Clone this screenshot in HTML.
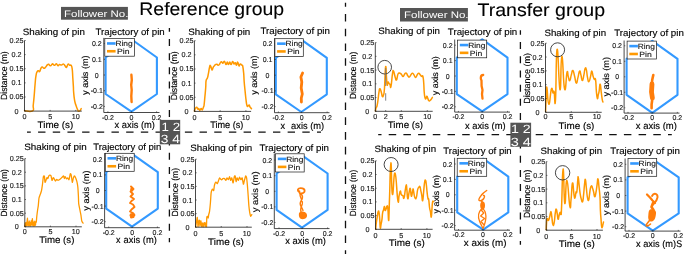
<!DOCTYPE html>
<html><head><meta charset="utf-8"><style>
html,body{margin:0;padding:0;background:#fff;}
svg{display:block;will-change:transform;}
text{font-family:"Liberation Sans",sans-serif;text-rendering:geometricPrecision;}
</style></head><body>
<svg xmlns="http://www.w3.org/2000/svg" width="685" height="254" viewBox="0 0 685 254">
<rect x="0" y="0" width="685" height="254" fill="#fff"/>
<path d="M24.50,110.80 C26.66,110.80 30.28,112.24 32.60,110.80 C34.92,109.36 32.80,109.19 33.20,105.40 C33.60,101.61 33.59,102.31 34.10,96.60 C34.61,90.89 34.59,89.60 35.10,84.00 C35.61,78.40 35.44,78.91 36.00,75.60 C36.56,72.29 36.53,72.88 37.20,71.60 C37.87,70.32 37.83,70.80 38.50,70.80 C39.17,70.80 39.03,72.32 39.70,71.60 C40.37,70.88 40.31,69.30 41.00,68.10 C41.69,66.90 41.53,67.05 42.30,67.10 C43.07,67.15 43.07,68.22 43.90,68.30 C44.73,68.38 44.49,68.31 45.40,67.40 C46.31,66.49 46.45,65.73 47.30,64.90 C48.15,64.07 47.77,64.06 48.60,64.30 C49.43,64.54 49.41,65.88 50.40,65.80 C51.39,65.72 51.53,64.37 52.30,64.00 C53.07,63.63 52.63,64.05 53.30,64.40 C53.97,64.75 53.97,65.46 54.80,65.30 C55.63,65.14 55.55,63.69 56.40,63.80 C57.25,63.91 57.15,65.54 58.00,65.70 C58.85,65.86 58.69,64.56 59.60,64.40 C60.51,64.24 60.33,65.18 61.40,65.10 C62.47,65.02 62.59,63.83 63.60,64.10 C64.61,64.37 64.43,65.25 65.20,66.10 C65.97,66.95 65.73,67.83 66.50,67.30 C67.27,66.77 67.27,64.63 68.10,64.10 C68.93,63.57 68.80,64.98 69.60,65.30 C70.40,65.62 70.41,64.34 71.10,65.30 C71.79,66.26 71.75,65.59 72.20,68.90 C72.65,72.21 72.48,72.87 72.80,77.70 C73.12,82.53 73.19,83.29 73.40,87.00 C73.61,90.71 73.28,88.03 73.60,91.60 C73.92,95.17 73.91,96.56 74.60,100.40 C75.29,104.24 75.37,103.49 76.20,106.00 C77.03,108.51 77.11,108.44 77.70,109.80 C78.29,111.16 77.81,110.86 78.40,111.10 C78.99,111.34 79.15,111.37 79.90,110.70 C80.65,110.03 80.85,109.16 81.20,108.60" fill="none" stroke="#ff9900" stroke-width="1.5" stroke-linejoin="round" stroke-linecap="round"/>
<path d="M24.5,40.5 V111.1 H81.8" fill="none" stroke="#1a1a1a" stroke-width="0.8"/>
<text x="9.50" y="43.00" font-size="7.2" textLength="14.01" lengthAdjust="spacingAndGlyphs" fill="#1a1a1a" stroke="#1a1a1a" stroke-width="0.14">0.25</text>
<text x="11.54" y="57.12" font-size="7.2" textLength="10.01" lengthAdjust="spacingAndGlyphs" fill="#1a1a1a" stroke="#1a1a1a" stroke-width="0.14">0.2</text>
<text x="9.50" y="71.24" font-size="7.2" textLength="14.01" lengthAdjust="spacingAndGlyphs" fill="#1a1a1a" stroke="#1a1a1a" stroke-width="0.14">0.15</text>
<text x="11.53" y="85.36" font-size="7.2" textLength="10.01" lengthAdjust="spacingAndGlyphs" fill="#1a1a1a" stroke="#1a1a1a" stroke-width="0.14">0.1</text>
<text x="9.50" y="99.48" font-size="7.2" textLength="14.01" lengthAdjust="spacingAndGlyphs" fill="#1a1a1a" stroke="#1a1a1a" stroke-width="0.14">0.05</text>
<text x="14.49" y="113.60" font-size="7.2" textLength="4.00" lengthAdjust="spacingAndGlyphs" fill="#1a1a1a" stroke="#1a1a1a" stroke-width="0.14">0</text>
<text x="22.49" y="119.40" font-size="7.2" textLength="4.00" lengthAdjust="spacingAndGlyphs" fill="#1a1a1a" stroke="#1a1a1a" stroke-width="0.14">0</text>
<text x="48.15" y="119.40" font-size="7.2" textLength="4.00" lengthAdjust="spacingAndGlyphs" fill="#1a1a1a" stroke="#1a1a1a" stroke-width="0.14">5</text>
<text x="71.66" y="119.40" font-size="7.2" textLength="8.01" lengthAdjust="spacingAndGlyphs" fill="#1a1a1a" stroke="#1a1a1a" stroke-width="0.14">10</text>
<path d="M24.5,40.50 h1.2 M24.5,54.62 h1.2 M24.5,68.74 h1.2 M24.5,82.86 h1.2 M24.5,96.98 h1.2 M24.5,111.10 h1.2 M24.50,111.1 v-1.2 M50.15,111.1 v-1.2 M75.80,111.1 v-1.2 " stroke="#1a1a1a" stroke-width="0.6"/>
<text x="22.76" y="34.60" font-size="9.3" textLength="62.17" lengthAdjust="spacingAndGlyphs" fill="#000" stroke="#000" stroke-width="0.14">Shaking of pin</text>
<text x="37.58" y="127.90" font-size="9.6" textLength="35.62" lengthAdjust="spacingAndGlyphs" fill="#000" stroke="#000" stroke-width="0.14">Time (s)</text>
<text transform="translate(7.00,99.90) rotate(-90)" x="0" y="0" font-size="8.9" textLength="48.63" lengthAdjust="spacingAndGlyphs" fill="#000" stroke="#000" stroke-width="0.14">Distance (m)</text>
<path d="M194.40,111.10 C194.75,110.25 195.03,108.91 195.70,107.90 C196.37,106.89 196.34,106.95 196.90,107.30 C197.46,107.65 197.29,108.85 197.80,109.20 C198.31,109.55 198.27,108.28 198.80,108.60 C199.33,108.92 199.19,110.40 199.80,110.40 C200.41,110.40 200.43,108.76 201.10,108.60 C201.77,108.44 201.63,110.31 202.30,109.80 C202.97,109.29 203.12,108.03 203.60,106.70 C204.08,105.37 203.75,107.49 204.10,104.80 C204.45,102.11 204.47,101.13 204.90,96.60 C205.33,92.07 205.38,92.07 205.70,87.80 C206.02,83.53 205.65,83.21 206.10,80.60 C206.55,77.99 206.79,79.87 207.40,78.00 C208.01,76.13 207.87,76.27 208.40,73.60 C208.93,70.93 208.89,70.19 209.40,68.00 C209.91,65.81 209.74,65.24 210.30,65.40 C210.86,65.56 210.99,67.40 211.50,68.60 C212.01,69.80 211.75,70.25 212.20,69.90 C212.65,69.55 212.61,68.39 213.20,67.30 C213.79,66.21 213.84,66.52 214.40,65.80 C214.96,65.08 214.63,65.03 215.30,64.60 C215.97,64.17 216.23,64.07 216.90,64.20 C217.57,64.33 217.21,64.94 217.80,65.10 C218.39,65.26 218.43,65.39 219.10,64.80 C219.77,64.21 219.63,63.73 220.30,62.90 C220.97,62.07 220.91,61.59 221.60,61.70 C222.29,61.81 222.13,63.38 222.90,63.30 C223.67,63.22 223.67,61.05 224.50,61.40 C225.33,61.75 225.25,64.41 226.00,64.60 C226.75,64.79 226.63,62.10 227.30,62.10 C227.97,62.10 227.83,64.60 228.50,64.60 C229.17,64.60 229.11,62.10 229.80,62.10 C230.49,62.10 230.33,64.79 231.10,64.60 C231.87,64.41 231.93,61.56 232.70,61.40 C233.47,61.24 233.33,63.65 234.00,64.00 C234.67,64.35 234.53,62.38 235.20,62.70 C235.87,63.02 235.83,65.36 236.50,65.20 C237.17,65.04 237.03,61.91 237.70,62.10 C238.37,62.29 238.31,65.39 239.00,65.90 C239.69,66.41 239.53,64.19 240.30,64.00 C241.07,63.81 241.23,64.53 241.90,65.20 C242.57,65.87 242.32,64.31 242.80,66.50 C243.28,68.69 243.33,69.27 243.70,73.40 C244.07,77.53 243.80,77.01 244.20,82.00 C244.60,86.99 244.72,87.41 245.20,92.10 C245.68,96.79 245.55,96.08 246.00,99.60 C246.45,103.12 246.39,103.54 246.90,105.30 C247.41,107.06 247.29,106.31 247.90,106.20 C248.51,106.09 248.69,104.79 249.20,104.90 C249.71,105.01 249.40,105.83 249.80,106.60 C250.20,107.37 250.25,107.24 250.70,107.80 C251.15,108.36 251.29,108.46 251.50,108.70" fill="none" stroke="#ff9900" stroke-width="1.5" stroke-linejoin="round" stroke-linecap="round"/>
<path d="M194.4,40.7 V111.4 H251.1" fill="none" stroke="#1a1a1a" stroke-width="0.8"/>
<text x="179.40" y="43.20" font-size="7.2" textLength="14.01" lengthAdjust="spacingAndGlyphs" fill="#1a1a1a" stroke="#1a1a1a" stroke-width="0.14">0.25</text>
<text x="181.44" y="57.34" font-size="7.2" textLength="10.01" lengthAdjust="spacingAndGlyphs" fill="#1a1a1a" stroke="#1a1a1a" stroke-width="0.14">0.2</text>
<text x="179.40" y="71.48" font-size="7.2" textLength="14.01" lengthAdjust="spacingAndGlyphs" fill="#1a1a1a" stroke="#1a1a1a" stroke-width="0.14">0.15</text>
<text x="181.43" y="85.62" font-size="7.2" textLength="10.01" lengthAdjust="spacingAndGlyphs" fill="#1a1a1a" stroke="#1a1a1a" stroke-width="0.14">0.1</text>
<text x="179.40" y="99.76" font-size="7.2" textLength="14.01" lengthAdjust="spacingAndGlyphs" fill="#1a1a1a" stroke="#1a1a1a" stroke-width="0.14">0.05</text>
<text x="184.39" y="113.90" font-size="7.2" textLength="4.00" lengthAdjust="spacingAndGlyphs" fill="#1a1a1a" stroke="#1a1a1a" stroke-width="0.14">0</text>
<text x="192.39" y="119.70" font-size="7.2" textLength="4.00" lengthAdjust="spacingAndGlyphs" fill="#1a1a1a" stroke="#1a1a1a" stroke-width="0.14">0</text>
<text x="218.15" y="119.70" font-size="7.2" textLength="4.00" lengthAdjust="spacingAndGlyphs" fill="#1a1a1a" stroke="#1a1a1a" stroke-width="0.14">5</text>
<text x="241.76" y="119.70" font-size="7.2" textLength="8.01" lengthAdjust="spacingAndGlyphs" fill="#1a1a1a" stroke="#1a1a1a" stroke-width="0.14">10</text>
<path d="M194.4,40.70 h1.2 M194.4,54.84 h1.2 M194.4,68.98 h1.2 M194.4,83.12 h1.2 M194.4,97.26 h1.2 M194.4,111.40 h1.2 M194.40,111.4 v-1.2 M220.15,111.4 v-1.2 M245.90,111.4 v-1.2 " stroke="#1a1a1a" stroke-width="0.6"/>
<text x="188.26" y="34.80" font-size="9.3" textLength="62.07" lengthAdjust="spacingAndGlyphs" fill="#000" stroke="#000" stroke-width="0.14">Shaking of pin</text>
<text x="210.20" y="127.70" font-size="9.6" textLength="33.17" lengthAdjust="spacingAndGlyphs" fill="#000" stroke="#000" stroke-width="0.14">Time (s)</text>
<text transform="translate(177.20,100.31) rotate(-90)" x="0" y="0" font-size="8.9" textLength="48.94" lengthAdjust="spacingAndGlyphs" fill="#000" stroke="#000" stroke-width="0.14">Distance (m)</text>
<path d="M24.80,226.50 C24.85,226.15 25.20,223.10 25.30,223.00 C25.40,222.90 25.70,225.57 25.80,225.50 C25.90,225.43 26.20,222.27 26.30,222.30 C26.40,222.33 26.69,226.21 26.80,225.80 C26.91,225.39 27.29,218.28 27.40,218.20 C27.51,218.12 27.81,224.56 27.90,225.00 C27.99,225.44 28.21,222.52 28.30,222.60 C28.39,222.68 28.71,225.97 28.80,225.80 C28.89,225.63 29.11,220.93 29.20,220.90 C29.29,220.87 29.61,225.33 29.70,225.50 C29.79,225.67 30.01,222.57 30.10,222.60 C30.19,222.63 30.49,225.97 30.60,225.80 C30.71,225.63 31.09,220.98 31.20,220.90 C31.31,220.82 31.58,225.22 31.70,225.00 C31.82,224.78 32.28,218.65 32.40,218.70 C32.52,218.75 32.81,225.11 32.90,225.50 C32.99,225.89 33.21,222.57 33.30,222.60 C33.39,222.63 33.71,225.94 33.80,225.80 C33.89,225.66 34.11,221.23 34.20,221.20 C34.29,221.17 34.61,225.29 34.70,225.50 C34.79,225.71 35.02,223.35 35.10,223.30 C35.18,223.25 35.43,225.21 35.50,225.00 C35.57,224.79 35.72,221.50 35.80,221.20 C35.88,220.90 36.20,222.49 36.30,222.00 C36.40,221.51 36.67,217.50 36.80,216.30 C36.93,215.10 37.45,211.07 37.60,210.00 C37.75,208.93 38.16,206.80 38.30,205.60 C38.44,204.40 38.80,199.13 39.00,198.00 C39.20,196.87 40.05,195.04 40.30,194.30 C40.55,193.56 41.29,191.54 41.50,190.60 C41.71,189.66 42.21,186.29 42.40,184.90 C42.59,183.51 43.20,177.56 43.40,176.70 C43.60,175.84 44.24,175.73 44.40,176.30 C44.56,176.87 44.85,181.98 45.00,182.40 C45.15,182.82 45.71,180.98 45.90,180.50 C46.09,180.02 46.71,177.79 46.90,177.60 C47.09,177.41 47.62,178.75 47.80,178.60 C47.98,178.45 48.51,176.45 48.70,176.10 C48.89,175.75 49.47,175.13 49.70,175.10 C49.93,175.07 50.77,175.27 51.00,175.80 C51.23,176.33 51.77,180.22 52.00,180.40 C52.23,180.58 53.07,177.73 53.30,177.60 C53.53,177.47 54.08,178.76 54.30,179.10 C54.52,179.44 55.25,180.97 55.50,181.00 C55.75,181.03 56.55,179.46 56.80,179.40 C57.05,179.34 57.75,180.37 58.00,180.40 C58.25,180.43 59.02,179.89 59.30,179.70 C59.58,179.51 60.52,178.75 60.80,178.50 C61.08,178.25 61.82,177.45 62.10,177.20 C62.38,176.95 63.38,175.87 63.60,176.00 C63.82,176.13 64.14,178.44 64.30,178.50 C64.46,178.56 64.98,176.56 65.20,176.60 C65.42,176.64 66.25,178.77 66.50,178.90 C66.75,179.03 67.45,177.82 67.70,177.90 C67.95,177.98 68.74,180.11 69.00,179.70 C69.26,179.29 70.09,174.30 70.30,173.80 C70.51,173.30 70.94,174.11 71.10,174.70 C71.26,175.29 71.77,178.94 71.90,179.70 C72.03,180.46 72.25,182.48 72.40,182.30 C72.55,182.12 73.20,178.53 73.40,177.90 C73.60,177.27 74.17,176.00 74.40,176.00 C74.63,176.00 75.45,177.34 75.70,177.90 C75.95,178.46 76.69,180.72 76.90,181.60 C77.11,182.48 77.65,185.26 77.80,186.70 C77.95,188.14 78.31,194.31 78.40,196.00 C78.49,197.69 78.55,202.21 78.70,203.60 C78.85,204.99 79.68,208.77 79.90,209.90 C80.12,211.03 80.71,213.77 80.90,214.90 C81.09,216.03 81.58,220.38 81.80,221.20 C82.02,222.02 82.97,222.91 83.10,223.10" fill="none" stroke="#ff9900" stroke-width="1.3" stroke-linejoin="round" stroke-linecap="round"/>
<path d="M24.8,158.6 V226.8 H81.8" fill="none" stroke="#1a1a1a" stroke-width="0.8"/>
<text x="9.80" y="161.10" font-size="7.2" textLength="14.01" lengthAdjust="spacingAndGlyphs" fill="#1a1a1a" stroke="#1a1a1a" stroke-width="0.14">0.25</text>
<text x="11.84" y="174.74" font-size="7.2" textLength="10.01" lengthAdjust="spacingAndGlyphs" fill="#1a1a1a" stroke="#1a1a1a" stroke-width="0.14">0.2</text>
<text x="9.80" y="188.38" font-size="7.2" textLength="14.01" lengthAdjust="spacingAndGlyphs" fill="#1a1a1a" stroke="#1a1a1a" stroke-width="0.14">0.15</text>
<text x="11.83" y="202.02" font-size="7.2" textLength="10.01" lengthAdjust="spacingAndGlyphs" fill="#1a1a1a" stroke="#1a1a1a" stroke-width="0.14">0.1</text>
<text x="9.80" y="215.66" font-size="7.2" textLength="14.01" lengthAdjust="spacingAndGlyphs" fill="#1a1a1a" stroke="#1a1a1a" stroke-width="0.14">0.05</text>
<text x="14.79" y="229.30" font-size="7.2" textLength="4.00" lengthAdjust="spacingAndGlyphs" fill="#1a1a1a" stroke="#1a1a1a" stroke-width="0.14">0</text>
<text x="22.79" y="234.30" font-size="7.2" textLength="4.00" lengthAdjust="spacingAndGlyphs" fill="#1a1a1a" stroke="#1a1a1a" stroke-width="0.14">0</text>
<text x="48.40" y="234.30" font-size="7.2" textLength="4.00" lengthAdjust="spacingAndGlyphs" fill="#1a1a1a" stroke="#1a1a1a" stroke-width="0.14">5</text>
<text x="71.86" y="234.30" font-size="7.2" textLength="8.01" lengthAdjust="spacingAndGlyphs" fill="#1a1a1a" stroke="#1a1a1a" stroke-width="0.14">10</text>
<path d="M24.8,158.60 h1.2 M24.8,172.24 h1.2 M24.8,185.88 h1.2 M24.8,199.52 h1.2 M24.8,213.16 h1.2 M24.8,226.80 h1.2 M24.80,226.8 v-1.2 M50.40,226.8 v-1.2 M76.00,226.8 v-1.2 " stroke="#1a1a1a" stroke-width="0.6"/>
<text x="24.16" y="149.80" font-size="9.3" textLength="62.47" lengthAdjust="spacingAndGlyphs" fill="#000" stroke="#000" stroke-width="0.14">Shaking of pin</text>
<text x="39.19" y="242.90" font-size="9.6" textLength="35.21" lengthAdjust="spacingAndGlyphs" fill="#000" stroke="#000" stroke-width="0.14">Time (s)</text>
<text transform="translate(7.00,216.49) rotate(-90)" x="0" y="0" font-size="8.9" textLength="47.40" lengthAdjust="spacingAndGlyphs" fill="#000" stroke="#000" stroke-width="0.14">Distance (m)</text>
<path d="M195.60,227.00 C195.69,226.50 196.33,222.95 196.50,222.00 C196.67,221.05 197.15,217.05 197.30,217.50 C197.45,217.95 197.87,226.05 198.00,226.50 C198.13,226.95 198.47,222.63 198.60,222.00 C198.73,221.37 199.17,219.80 199.30,220.20 C199.43,220.60 199.74,225.96 199.90,226.00 C200.06,226.04 200.72,220.55 200.90,220.60 C201.08,220.65 201.55,226.26 201.70,226.50 C201.85,226.74 202.26,222.97 202.40,223.00 C202.54,223.03 202.96,226.75 203.10,226.80 C203.24,226.85 203.67,223.92 203.80,223.50 C203.93,223.08 204.26,222.30 204.40,222.60 C204.54,222.90 205.04,226.54 205.20,226.50 C205.36,226.46 205.87,222.19 206.00,222.20 C206.13,222.21 206.42,227.07 206.50,226.60 C206.58,226.13 206.69,218.53 206.80,217.50 C206.91,216.47 207.46,216.25 207.60,216.30 C207.74,216.35 208.09,218.16 208.20,218.00 C208.31,217.84 208.57,215.34 208.70,214.70 C208.83,214.06 209.33,212.77 209.50,211.60 C209.67,210.43 210.24,204.85 210.40,203.00 C210.56,201.15 210.95,194.41 211.10,193.10 C211.25,191.79 211.73,190.28 211.90,189.90 C212.07,189.52 212.62,189.23 212.80,189.30 C212.98,189.37 213.54,190.98 213.70,190.60 C213.86,190.22 214.20,186.35 214.40,185.50 C214.60,184.65 215.48,182.35 215.70,182.10 C215.92,181.85 216.43,182.85 216.60,183.00 C216.77,183.15 217.22,183.79 217.40,183.60 C217.58,183.41 218.19,181.66 218.40,181.10 C218.61,180.54 219.27,178.19 219.50,178.00 C219.73,177.81 220.49,179.01 220.70,179.20 C220.91,179.39 221.38,179.96 221.60,179.90 C221.82,179.84 222.61,178.74 222.90,178.60 C223.19,178.46 224.21,178.32 224.50,178.50 C224.79,178.68 225.55,180.46 225.80,180.40 C226.05,180.34 226.75,177.97 227.00,177.90 C227.25,177.83 228.04,179.83 228.30,179.70 C228.56,179.57 229.37,176.53 229.60,176.60 C229.83,176.67 230.38,180.27 230.60,180.40 C230.82,180.53 231.55,177.65 231.80,177.90 C232.05,178.15 232.85,183.03 233.10,182.90 C233.35,182.77 234.09,177.29 234.30,176.60 C234.51,175.91 235.02,175.50 235.20,176.00 C235.38,176.50 235.91,181.41 236.10,181.60 C236.29,181.79 236.87,178.02 237.10,177.90 C237.33,177.78 238.15,180.47 238.40,180.40 C238.65,180.33 239.35,177.27 239.60,177.20 C239.85,177.13 240.64,179.63 240.90,179.70 C241.16,179.77 241.95,177.45 242.20,177.90 C242.45,178.35 243.18,183.95 243.40,184.20 C243.62,184.45 244.17,181.22 244.40,180.40 C244.63,179.58 245.48,176.25 245.70,176.00 C245.92,175.75 246.43,176.96 246.60,177.90 C246.77,178.84 247.24,183.59 247.40,185.40 C247.56,187.21 248.05,193.94 248.20,196.00 C248.35,198.06 248.75,204.36 248.90,206.00 C249.05,207.64 249.53,211.38 249.70,212.40 C249.87,213.42 250.39,215.98 250.60,216.20 C250.81,216.42 251.68,214.76 251.80,214.60" fill="none" stroke="#ff9900" stroke-width="1.3" stroke-linejoin="round" stroke-linecap="round"/>
<path d="M195.5,159.2 V227.2 H251.8" fill="none" stroke="#1a1a1a" stroke-width="0.8"/>
<text x="180.50" y="161.70" font-size="7.2" textLength="14.01" lengthAdjust="spacingAndGlyphs" fill="#1a1a1a" stroke="#1a1a1a" stroke-width="0.14">0.25</text>
<text x="182.54" y="175.30" font-size="7.2" textLength="10.01" lengthAdjust="spacingAndGlyphs" fill="#1a1a1a" stroke="#1a1a1a" stroke-width="0.14">0.2</text>
<text x="180.50" y="188.90" font-size="7.2" textLength="14.01" lengthAdjust="spacingAndGlyphs" fill="#1a1a1a" stroke="#1a1a1a" stroke-width="0.14">0.15</text>
<text x="182.53" y="202.50" font-size="7.2" textLength="10.01" lengthAdjust="spacingAndGlyphs" fill="#1a1a1a" stroke="#1a1a1a" stroke-width="0.14">0.1</text>
<text x="180.50" y="216.10" font-size="7.2" textLength="14.01" lengthAdjust="spacingAndGlyphs" fill="#1a1a1a" stroke="#1a1a1a" stroke-width="0.14">0.05</text>
<text x="185.49" y="229.70" font-size="7.2" textLength="4.00" lengthAdjust="spacingAndGlyphs" fill="#1a1a1a" stroke="#1a1a1a" stroke-width="0.14">0</text>
<text x="193.49" y="235.50" font-size="7.2" textLength="4.00" lengthAdjust="spacingAndGlyphs" fill="#1a1a1a" stroke="#1a1a1a" stroke-width="0.14">0</text>
<text x="219.25" y="235.50" font-size="7.2" textLength="4.00" lengthAdjust="spacingAndGlyphs" fill="#1a1a1a" stroke="#1a1a1a" stroke-width="0.14">5</text>
<text x="242.86" y="235.50" font-size="7.2" textLength="8.01" lengthAdjust="spacingAndGlyphs" fill="#1a1a1a" stroke="#1a1a1a" stroke-width="0.14">10</text>
<path d="M195.5,159.20 h1.2 M195.5,172.80 h1.2 M195.5,186.40 h1.2 M195.5,200.00 h1.2 M195.5,213.60 h1.2 M195.5,227.20 h1.2 M195.50,227.2 v-1.2 M221.25,227.2 v-1.2 M247.00,227.2 v-1.2 " stroke="#1a1a1a" stroke-width="0.6"/>
<text x="190.26" y="150.80" font-size="9.3" textLength="62.07" lengthAdjust="spacingAndGlyphs" fill="#000" stroke="#000" stroke-width="0.14">Shaking of pin</text>
<text x="208.08" y="244.60" font-size="9.6" textLength="35.83" lengthAdjust="spacingAndGlyphs" fill="#000" stroke="#000" stroke-width="0.14">Time (s)</text>
<text transform="translate(177.60,216.50) rotate(-90)" x="0" y="0" font-size="8.9" textLength="48.53" lengthAdjust="spacingAndGlyphs" fill="#000" stroke="#000" stroke-width="0.14">Distance (m)</text>
<path d="M375.50,111.00 C375.63,110.20 375.60,109.33 376.00,108.00 C376.40,106.67 376.47,108.13 377.00,106.00 C377.53,103.87 377.47,103.73 378.00,100.00 C378.53,96.27 378.47,94.99 379.00,92.00 C379.53,89.01 379.33,88.53 380.00,88.80 C380.67,89.07 380.89,90.95 381.50,93.00 C382.11,95.05 381.77,95.97 382.30,96.50 C382.83,97.03 382.91,97.27 383.50,95.00 C384.09,92.73 383.94,95.49 384.50,88.00 C385.06,80.51 385.04,69.33 385.60,66.90 C386.16,64.47 386.17,74.02 386.60,78.90 C387.03,83.78 386.83,84.37 387.20,85.20 C387.57,86.03 387.52,82.45 388.00,82.00 C388.48,81.55 388.47,82.83 389.00,83.50 C389.53,84.17 389.47,83.73 390.00,84.50 C390.53,85.27 390.33,89.31 391.00,86.40 C391.67,83.49 391.83,77.68 392.50,73.60 C393.17,69.52 392.83,70.35 393.50,71.10 C394.17,71.85 394.20,74.03 395.00,76.40 C395.80,78.77 395.70,80.64 396.50,80.00 C397.30,79.36 397.07,75.81 398.00,74.00 C398.93,72.19 399.07,73.07 400.00,73.20 C400.93,73.33 400.67,73.65 401.50,74.50 C402.33,75.35 402.22,76.56 403.10,76.40 C403.98,76.24 403.95,74.75 404.80,73.90 C405.65,73.05 405.50,72.72 406.30,73.20 C407.10,73.68 406.97,74.69 407.80,75.70 C408.63,76.71 408.52,77.32 409.40,77.00 C410.28,76.68 410.25,75.51 411.10,74.50 C411.95,73.49 411.80,73.04 412.60,73.20 C413.40,73.36 413.27,73.98 414.10,75.10 C414.93,76.22 414.82,77.56 415.70,77.40 C416.58,77.24 416.55,75.62 417.40,74.50 C418.25,73.38 418.10,73.04 418.90,73.20 C419.70,73.36 419.65,74.25 420.40,75.10 C421.15,75.95 421.03,76.05 421.70,76.40 C422.37,76.75 422.37,74.72 422.90,76.40 C423.43,78.08 423.35,78.54 423.70,82.70 C424.05,86.86 423.88,88.08 424.20,92.00 C424.52,95.92 424.45,95.61 424.90,97.40 C425.35,99.19 425.39,99.02 425.90,98.70 C426.41,98.38 426.32,96.36 426.80,96.20 C427.28,96.04 427.19,96.93 427.70,98.10 C428.21,99.27 428.11,99.93 428.70,100.60 C429.29,101.27 429.23,100.95 429.90,100.60 C430.57,100.25 430.53,100.15 431.20,99.30 C431.87,98.45 432.08,97.91 432.40,97.40" fill="none" stroke="#ff9900" stroke-width="1.5" stroke-linejoin="round" stroke-linecap="round"/>
<path d="M375.3,42.6 V111.3 H432.7" fill="none" stroke="#1a1a1a" stroke-width="0.8"/>
<text x="360.30" y="45.10" font-size="7.2" textLength="14.01" lengthAdjust="spacingAndGlyphs" fill="#1a1a1a" stroke="#1a1a1a" stroke-width="0.14">0.25</text>
<text x="362.34" y="58.84" font-size="7.2" textLength="10.01" lengthAdjust="spacingAndGlyphs" fill="#1a1a1a" stroke="#1a1a1a" stroke-width="0.14">0.2</text>
<text x="360.30" y="72.58" font-size="7.2" textLength="14.01" lengthAdjust="spacingAndGlyphs" fill="#1a1a1a" stroke="#1a1a1a" stroke-width="0.14">0.15</text>
<text x="362.33" y="86.32" font-size="7.2" textLength="10.01" lengthAdjust="spacingAndGlyphs" fill="#1a1a1a" stroke="#1a1a1a" stroke-width="0.14">0.1</text>
<text x="360.30" y="100.06" font-size="7.2" textLength="14.01" lengthAdjust="spacingAndGlyphs" fill="#1a1a1a" stroke="#1a1a1a" stroke-width="0.14">0.05</text>
<text x="365.29" y="113.80" font-size="7.2" textLength="4.00" lengthAdjust="spacingAndGlyphs" fill="#1a1a1a" stroke="#1a1a1a" stroke-width="0.14">0</text>
<text x="373.29" y="118.60" font-size="7.2" textLength="4.00" lengthAdjust="spacingAndGlyphs" fill="#1a1a1a" stroke="#1a1a1a" stroke-width="0.14">0</text>
<text x="383.70" y="118.60" font-size="7.2" textLength="4.00" lengthAdjust="spacingAndGlyphs" fill="#1a1a1a" stroke="#1a1a1a" stroke-width="0.14">2</text>
<text x="399.30" y="118.60" font-size="7.2" textLength="4.00" lengthAdjust="spacingAndGlyphs" fill="#1a1a1a" stroke="#1a1a1a" stroke-width="0.14">5</text>
<text x="423.16" y="118.60" font-size="7.2" textLength="8.01" lengthAdjust="spacingAndGlyphs" fill="#1a1a1a" stroke="#1a1a1a" stroke-width="0.14">10</text>
<path d="M375.3,42.60 h1.2 M375.3,56.34 h1.2 M375.3,70.08 h1.2 M375.3,83.82 h1.2 M375.3,97.56 h1.2 M375.3,111.30 h1.2 M375.30,111.3 v-1.2 M385.70,111.3 v-1.2 M401.30,111.3 v-1.2 M427.30,111.3 v-1.2 " stroke="#1a1a1a" stroke-width="0.6"/>
<text x="378.36" y="33.90" font-size="9.3" textLength="61.66" lengthAdjust="spacingAndGlyphs" fill="#000" stroke="#000" stroke-width="0.14">Shaking of pin</text>
<text x="387.79" y="128.30" font-size="9.6" textLength="35.32" lengthAdjust="spacingAndGlyphs" fill="#000" stroke="#000" stroke-width="0.14">Time (s)</text>
<text transform="translate(355.60,99.08) rotate(-90)" x="0" y="0" font-size="8.9" textLength="47.30" lengthAdjust="spacingAndGlyphs" fill="#000" stroke="#000" stroke-width="0.14">Distance (m)</text>
<path d="M545.60,111.50 C545.73,108.43 545.78,106.48 546.10,100.00 C546.42,93.52 546.08,86.08 546.80,87.20 C547.52,88.32 547.57,103.69 548.80,104.20 C550.03,104.71 550.28,92.11 551.40,89.10 C552.52,86.09 552.28,92.23 553.00,92.90 C553.72,93.57 553.43,89.76 554.10,91.60 C554.77,93.44 554.70,111.08 555.50,99.80 C556.30,88.52 555.90,51.99 557.10,49.30 C558.30,46.61 558.75,87.91 560.00,89.70 C561.25,91.49 560.57,56.16 561.80,56.00 C563.03,55.84 563.21,84.73 564.60,89.10 C565.99,93.47 566.01,75.68 567.00,72.40 C567.99,69.12 567.55,74.61 568.30,76.80 C569.05,78.99 569.00,81.11 569.80,80.60 C570.60,80.09 570.47,77.59 571.30,74.90 C572.13,72.21 572.02,70.15 572.90,70.50 C573.78,70.85 573.69,72.84 574.60,76.20 C575.51,79.56 575.39,82.78 576.30,83.10 C577.21,83.42 577.12,80.60 578.00,77.40 C578.88,74.20 578.83,71.77 579.60,71.10 C580.37,70.43 580.15,72.37 580.90,74.90 C581.65,77.43 581.60,80.60 582.40,80.60 C583.20,80.60 583.18,78.10 583.90,74.90 C584.62,71.70 584.43,69.93 585.10,68.60 C585.77,67.27 585.79,67.71 586.40,69.90 C587.01,72.09 586.73,73.63 587.40,76.80 C588.07,79.97 588.05,81.96 588.90,81.80 C589.75,81.64 589.83,79.05 590.60,76.20 C591.37,73.35 591.13,71.10 591.80,71.10 C592.47,71.10 592.43,74.01 593.10,76.20 C593.77,78.39 593.63,78.31 594.30,79.30 C594.97,80.29 595.04,76.62 595.60,79.90 C596.16,83.18 595.92,86.64 596.40,91.60 C596.88,96.56 596.89,97.67 597.40,98.50 C597.91,99.33 597.85,96.62 598.30,94.70 C598.75,92.78 598.59,94.10 599.10,91.30 C599.61,88.50 599.61,83.83 600.20,84.20 C600.79,84.57 600.74,88.54 601.30,92.70 C601.86,96.86 601.85,97.32 602.30,99.80 C602.75,102.28 602.81,101.41 603.00,102.00" fill="none" stroke="#ff9900" stroke-width="1.5" stroke-linejoin="round" stroke-linecap="round"/>
<path d="M545.5,43.2 V112.3 H601.7" fill="none" stroke="#1a1a1a" stroke-width="0.8"/>
<text x="530.50" y="45.70" font-size="7.2" textLength="14.01" lengthAdjust="spacingAndGlyphs" fill="#1a1a1a" stroke="#1a1a1a" stroke-width="0.14">0.25</text>
<text x="532.54" y="59.52" font-size="7.2" textLength="10.01" lengthAdjust="spacingAndGlyphs" fill="#1a1a1a" stroke="#1a1a1a" stroke-width="0.14">0.2</text>
<text x="530.50" y="73.34" font-size="7.2" textLength="14.01" lengthAdjust="spacingAndGlyphs" fill="#1a1a1a" stroke="#1a1a1a" stroke-width="0.14">0.15</text>
<text x="532.53" y="87.16" font-size="7.2" textLength="10.01" lengthAdjust="spacingAndGlyphs" fill="#1a1a1a" stroke="#1a1a1a" stroke-width="0.14">0.1</text>
<text x="530.50" y="100.98" font-size="7.2" textLength="14.01" lengthAdjust="spacingAndGlyphs" fill="#1a1a1a" stroke="#1a1a1a" stroke-width="0.14">0.05</text>
<text x="535.49" y="114.80" font-size="7.2" textLength="4.00" lengthAdjust="spacingAndGlyphs" fill="#1a1a1a" stroke="#1a1a1a" stroke-width="0.14">0</text>
<text x="543.49" y="119.30" font-size="7.2" textLength="4.00" lengthAdjust="spacingAndGlyphs" fill="#1a1a1a" stroke="#1a1a1a" stroke-width="0.14">0</text>
<text x="569.25" y="119.30" font-size="7.2" textLength="4.00" lengthAdjust="spacingAndGlyphs" fill="#1a1a1a" stroke="#1a1a1a" stroke-width="0.14">5</text>
<text x="592.86" y="119.30" font-size="7.2" textLength="8.01" lengthAdjust="spacingAndGlyphs" fill="#1a1a1a" stroke="#1a1a1a" stroke-width="0.14">10</text>
<path d="M545.5,43.20 h1.2 M545.5,57.02 h1.2 M545.5,70.84 h1.2 M545.5,84.66 h1.2 M545.5,98.48 h1.2 M545.5,112.30 h1.2 M545.50,112.3 v-1.2 M571.25,112.3 v-1.2 M597.00,112.3 v-1.2 " stroke="#1a1a1a" stroke-width="0.6"/>
<text x="544.46" y="35.90" font-size="9.3" textLength="61.66" lengthAdjust="spacingAndGlyphs" fill="#000" stroke="#000" stroke-width="0.14">Shaking of pin</text>
<text x="558.58" y="128.70" font-size="9.6" textLength="35.83" lengthAdjust="spacingAndGlyphs" fill="#000" stroke="#000" stroke-width="0.14">Time (s)</text>
<text transform="translate(529.60,103.83) rotate(-90)" x="0" y="0" font-size="8.9" textLength="50.79" lengthAdjust="spacingAndGlyphs" fill="#000" stroke="#000" stroke-width="0.14">Distance (m)</text>
<path d="M375.70,229.20 C375.86,227.52 375.87,226.26 376.30,222.90 C376.73,219.54 376.79,219.61 377.30,216.60 C377.81,213.59 377.72,212.61 378.20,211.60 C378.68,210.59 378.67,210.45 379.10,212.80 C379.53,215.15 379.48,216.37 379.80,220.40 C380.12,224.43 379.95,226.89 380.30,227.90 C380.65,228.91 380.65,226.55 381.10,224.20 C381.55,221.85 381.60,222.14 382.00,219.10 C382.40,216.06 382.17,215.31 382.60,212.80 C383.03,210.29 383.09,211.38 383.60,209.70 C384.11,208.02 384.10,206.34 384.50,206.50 C384.90,206.66 384.67,209.63 385.10,210.30 C385.53,210.97 385.59,210.17 386.10,209.00 C386.61,207.83 386.52,205.90 387.00,205.90 C387.48,205.90 387.47,205.13 387.90,209.00 C388.33,212.87 388.28,219.71 388.60,220.40 C388.92,221.09 388.83,218.21 389.10,211.60 C389.37,204.99 389.12,208.61 389.60,195.60 C390.08,182.59 390.15,163.15 390.90,162.80 C391.65,162.45 391.31,191.55 392.40,194.30 C393.49,197.05 393.56,171.58 395.00,173.10 C396.44,174.62 396.71,194.00 397.80,200.00 C398.89,206.00 398.43,197.97 399.10,195.60 C399.77,193.23 399.71,191.37 400.30,191.10 C400.89,190.83 400.63,193.43 401.30,194.60 C401.97,195.77 402.08,194.59 402.80,195.50 C403.52,196.41 403.33,199.49 404.00,198.00 C404.67,196.51 404.69,193.42 405.30,189.90 C405.91,186.38 405.87,184.80 406.30,184.80 C406.73,184.80 406.50,186.19 406.90,189.90 C407.30,193.61 407.21,198.03 407.80,198.70 C408.39,199.37 408.43,195.09 409.10,192.40 C409.77,189.71 409.71,187.59 410.30,188.60 C410.89,189.61 410.69,195.53 411.30,196.20 C411.91,196.87 412.09,192.97 412.60,191.10 C413.11,189.23 412.80,188.35 413.20,189.20 C413.60,190.05 413.59,191.95 414.10,194.30 C414.61,196.65 414.49,197.17 415.10,198.00 C415.71,198.83 415.73,199.56 416.40,197.40 C417.07,195.24 416.93,192.59 417.60,189.90 C418.27,187.21 418.29,188.15 418.90,187.30 C419.51,186.45 419.39,185.85 419.90,186.70 C420.41,187.55 420.32,188.31 420.80,190.50 C421.28,192.69 421.19,192.21 421.70,194.90 C422.21,197.59 422.17,201.61 422.70,200.60 C423.23,199.59 423.19,195.98 423.70,191.10 C424.21,186.22 424.09,185.15 424.60,182.30 C425.11,179.45 425.12,179.57 425.60,180.40 C426.08,181.23 426.00,182.20 426.40,185.40 C426.80,188.60 426.67,188.85 427.10,192.40 C427.53,195.95 427.57,196.86 428.00,198.70 C428.43,200.54 428.27,196.82 428.70,199.30 C429.13,201.78 429.15,204.77 429.60,208.00 C430.05,211.23 429.95,208.97 430.40,211.40 C430.85,213.83 430.90,217.58 431.30,217.10 C431.70,216.62 431.55,213.63 431.90,209.60 C432.25,205.57 432.15,204.13 432.60,202.00 C433.05,199.87 433.33,201.71 433.60,201.60" fill="none" stroke="#ff9900" stroke-width="1.5" stroke-linejoin="round" stroke-linecap="round"/>
<path d="M375.5,160.8 V229.3 H432.6" fill="none" stroke="#1a1a1a" stroke-width="0.8"/>
<text x="360.50" y="163.30" font-size="7.2" textLength="14.01" lengthAdjust="spacingAndGlyphs" fill="#1a1a1a" stroke="#1a1a1a" stroke-width="0.14">0.25</text>
<text x="362.54" y="177.00" font-size="7.2" textLength="10.01" lengthAdjust="spacingAndGlyphs" fill="#1a1a1a" stroke="#1a1a1a" stroke-width="0.14">0.2</text>
<text x="360.50" y="190.70" font-size="7.2" textLength="14.01" lengthAdjust="spacingAndGlyphs" fill="#1a1a1a" stroke="#1a1a1a" stroke-width="0.14">0.15</text>
<text x="362.53" y="204.40" font-size="7.2" textLength="10.01" lengthAdjust="spacingAndGlyphs" fill="#1a1a1a" stroke="#1a1a1a" stroke-width="0.14">0.1</text>
<text x="360.50" y="218.10" font-size="7.2" textLength="14.01" lengthAdjust="spacingAndGlyphs" fill="#1a1a1a" stroke="#1a1a1a" stroke-width="0.14">0.05</text>
<text x="365.49" y="231.80" font-size="7.2" textLength="4.00" lengthAdjust="spacingAndGlyphs" fill="#1a1a1a" stroke="#1a1a1a" stroke-width="0.14">0</text>
<text x="373.49" y="237.60" font-size="7.2" textLength="4.00" lengthAdjust="spacingAndGlyphs" fill="#1a1a1a" stroke="#1a1a1a" stroke-width="0.14">0</text>
<text x="399.20" y="237.60" font-size="7.2" textLength="4.00" lengthAdjust="spacingAndGlyphs" fill="#1a1a1a" stroke="#1a1a1a" stroke-width="0.14">5</text>
<text x="422.76" y="237.60" font-size="7.2" textLength="8.01" lengthAdjust="spacingAndGlyphs" fill="#1a1a1a" stroke="#1a1a1a" stroke-width="0.14">10</text>
<path d="M375.5,160.80 h1.2 M375.5,174.50 h1.2 M375.5,188.20 h1.2 M375.5,201.90 h1.2 M375.5,215.60 h1.2 M375.5,229.30 h1.2 M375.50,229.3 v-1.2 M401.20,229.3 v-1.2 M426.90,229.3 v-1.2 " stroke="#1a1a1a" stroke-width="0.6"/>
<text x="374.46" y="151.80" font-size="9.3" textLength="61.66" lengthAdjust="spacingAndGlyphs" fill="#000" stroke="#000" stroke-width="0.14">Shaking of pin</text>
<text x="388.88" y="246.20" font-size="9.6" textLength="36.03" lengthAdjust="spacingAndGlyphs" fill="#000" stroke="#000" stroke-width="0.14">Time (s)</text>
<text transform="translate(356.30,216.27) rotate(-90)" x="0" y="0" font-size="8.9" textLength="46.58" lengthAdjust="spacingAndGlyphs" fill="#000" stroke="#000" stroke-width="0.14">Distance (m)</text>
<path d="M546.30,229.80 C546.35,228.31 546.29,227.19 546.50,224.20 C546.71,221.21 546.59,219.61 547.10,218.60 C547.61,217.59 547.71,220.91 548.40,220.40 C549.09,219.89 549.03,219.05 549.70,216.70 C550.37,214.35 550.34,211.60 550.90,211.60 C551.46,211.60 551.29,213.34 551.80,216.70 C552.31,220.06 552.19,222.52 552.80,224.20 C553.41,225.88 553.43,226.01 554.10,223.00 C554.77,219.99 554.71,216.61 555.30,212.90 C555.89,209.19 555.79,208.94 556.30,209.10 C556.81,209.26 556.72,210.81 557.20,213.50 C557.68,216.19 557.59,218.69 558.10,219.20 C558.61,219.71 558.57,217.24 559.10,215.40 C559.63,213.56 559.59,212.62 560.10,212.30 C560.61,211.98 560.60,215.72 561.00,214.20 C561.40,212.68 561.04,218.65 561.60,206.60 C562.16,194.55 562.25,169.85 563.10,169.00 C563.95,168.15 563.79,200.36 564.80,203.40 C565.81,206.44 565.57,179.71 566.90,180.40 C568.23,181.09 568.68,201.04 569.80,206.00 C570.92,210.96 570.38,205.13 571.10,199.00 C571.82,192.87 571.73,184.15 572.50,183.00 C573.27,181.85 573.33,190.75 574.00,194.70 C574.67,198.65 574.47,198.47 575.00,197.80 C575.53,197.13 575.49,193.88 576.00,192.20 C576.51,190.52 576.42,194.86 576.90,191.50 C577.38,188.14 577.43,183.28 577.80,179.60 C578.17,175.92 577.95,176.37 578.30,177.70 C578.65,179.03 578.62,180.41 579.10,184.60 C579.58,188.79 579.51,189.53 580.10,193.40 C580.69,197.27 580.63,196.91 581.30,199.10 C581.97,201.29 581.99,202.77 582.60,201.60 C583.21,200.43 583.09,199.23 583.60,194.70 C584.11,190.17 584.02,188.63 584.50,184.60 C584.98,180.57 584.89,178.59 585.40,179.60 C585.91,180.61 585.87,183.71 586.40,188.40 C586.93,193.09 586.81,194.03 587.40,197.20 C587.99,200.37 588.04,200.97 588.60,200.30 C589.16,199.63 589.02,197.87 589.50,194.70 C589.98,191.53 589.89,190.75 590.40,188.40 C590.91,186.05 590.87,186.09 591.40,185.90 C591.93,185.71 591.79,186.02 592.40,187.70 C593.01,189.38 593.11,189.83 593.70,192.20 C594.29,194.57 594.04,196.28 594.60,196.60 C595.16,196.92 595.13,196.60 595.80,193.40 C596.47,190.20 596.51,188.47 597.10,184.60 C597.69,180.73 597.49,178.23 598.00,178.90 C598.51,179.57 598.47,182.22 599.00,187.10 C599.53,191.98 599.63,191.07 600.00,197.20 C600.37,203.33 600.13,204.31 600.40,210.10 C600.67,215.89 600.68,214.55 601.00,218.90 C601.32,223.25 601.25,224.21 601.60,226.40 C601.95,228.59 601.95,227.58 602.30,227.10 C602.65,226.62 602.58,225.96 602.90,224.60 C603.22,223.24 603.34,222.69 603.50,222.00" fill="none" stroke="#ff9900" stroke-width="1.5" stroke-linejoin="round" stroke-linecap="round"/>
<path d="M546.2,161.7 V230.2 H602.9" fill="none" stroke="#1a1a1a" stroke-width="0.8"/>
<text x="531.20" y="164.20" font-size="7.2" textLength="14.01" lengthAdjust="spacingAndGlyphs" fill="#1a1a1a" stroke="#1a1a1a" stroke-width="0.14">0.25</text>
<text x="533.24" y="177.90" font-size="7.2" textLength="10.01" lengthAdjust="spacingAndGlyphs" fill="#1a1a1a" stroke="#1a1a1a" stroke-width="0.14">0.2</text>
<text x="531.20" y="191.60" font-size="7.2" textLength="14.01" lengthAdjust="spacingAndGlyphs" fill="#1a1a1a" stroke="#1a1a1a" stroke-width="0.14">0.15</text>
<text x="533.23" y="205.30" font-size="7.2" textLength="10.01" lengthAdjust="spacingAndGlyphs" fill="#1a1a1a" stroke="#1a1a1a" stroke-width="0.14">0.1</text>
<text x="531.20" y="219.00" font-size="7.2" textLength="14.01" lengthAdjust="spacingAndGlyphs" fill="#1a1a1a" stroke="#1a1a1a" stroke-width="0.14">0.05</text>
<text x="536.19" y="232.70" font-size="7.2" textLength="4.00" lengthAdjust="spacingAndGlyphs" fill="#1a1a1a" stroke="#1a1a1a" stroke-width="0.14">0</text>
<text x="544.19" y="238.50" font-size="7.2" textLength="4.00" lengthAdjust="spacingAndGlyphs" fill="#1a1a1a" stroke="#1a1a1a" stroke-width="0.14">0</text>
<text x="569.60" y="238.50" font-size="7.2" textLength="4.00" lengthAdjust="spacingAndGlyphs" fill="#1a1a1a" stroke="#1a1a1a" stroke-width="0.14">5</text>
<text x="592.86" y="238.50" font-size="7.2" textLength="8.01" lengthAdjust="spacingAndGlyphs" fill="#1a1a1a" stroke="#1a1a1a" stroke-width="0.14">10</text>
<path d="M546.2,161.70 h1.2 M546.2,175.40 h1.2 M546.2,189.10 h1.2 M546.2,202.80 h1.2 M546.2,216.50 h1.2 M546.2,230.20 h1.2 M546.20,230.2 v-1.2 M571.60,230.2 v-1.2 M597.00,230.2 v-1.2 " stroke="#1a1a1a" stroke-width="0.6"/>
<text x="540.56" y="153.80" font-size="9.3" textLength="61.56" lengthAdjust="spacingAndGlyphs" fill="#000" stroke="#000" stroke-width="0.14">Shaking of pin</text>
<text x="558.88" y="247.20" font-size="9.6" textLength="36.03" lengthAdjust="spacingAndGlyphs" fill="#000" stroke="#000" stroke-width="0.14">Time (s)</text>
<text transform="translate(529.50,218.00) rotate(-90)" x="0" y="0" font-size="8.9" textLength="48.32" lengthAdjust="spacingAndGlyphs" fill="#000" stroke="#000" stroke-width="0.14">Distance (m)</text>
<path d="M131.4,39.25 L156.9,57.5 L156.9,94 L131.4,111.6 L105.6,94 L105.6,57.5 Z" fill="none" stroke="#3399ff" stroke-width="2.1" stroke-linejoin="round"/>
<path d="M131.4,74.8 L131.8,80 L131.2,85 L131.7,90 L131.3,96 L131.6,102" fill="none" stroke="#ff7d0a" stroke-width="2.4" stroke-linejoin="round" stroke-linecap="round"/>
<path d="M103.8,37.9 V112.5 H159.5" fill="none" stroke="#1a1a1a" stroke-width="0.8"/>
<text x="91.97" y="46.10" font-size="7.0" textLength="9.73" lengthAdjust="spacingAndGlyphs" fill="#1a1a1a" stroke="#1a1a1a" stroke-width="0.14">0.2</text>
<text x="91.97" y="61.80" font-size="7.0" textLength="9.73" lengthAdjust="spacingAndGlyphs" fill="#1a1a1a" stroke="#1a1a1a" stroke-width="0.14">0.1</text>
<text x="94.85" y="77.50" font-size="7.0" textLength="3.89" lengthAdjust="spacingAndGlyphs" fill="#1a1a1a" stroke="#1a1a1a" stroke-width="0.14">0</text>
<text x="90.78" y="93.20" font-size="7.0" textLength="12.06" lengthAdjust="spacingAndGlyphs" fill="#1a1a1a" stroke="#1a1a1a" stroke-width="0.14">-0.1</text>
<text x="90.79" y="108.90" font-size="7.0" textLength="12.06" lengthAdjust="spacingAndGlyphs" fill="#1a1a1a" stroke="#1a1a1a" stroke-width="0.14">-0.2</text>
<text x="101.89" y="119.70" font-size="7.0" textLength="12.06" lengthAdjust="spacingAndGlyphs" fill="#1a1a1a" stroke="#1a1a1a" stroke-width="0.14">-0.2</text>
<text x="129.55" y="119.70" font-size="7.0" textLength="3.89" lengthAdjust="spacingAndGlyphs" fill="#1a1a1a" stroke="#1a1a1a" stroke-width="0.14">0</text>
<text x="151.77" y="119.70" font-size="7.0" textLength="9.73" lengthAdjust="spacingAndGlyphs" fill="#1a1a1a" stroke="#1a1a1a" stroke-width="0.14">0.2</text>
<path d="M103.8,43.60 h1.2 M103.8,59.30 h1.2 M103.8,75.00 h1.2 M103.8,90.70 h1.2 M103.8,106.40 h1.2 M107.90,112.5 v-1.2 M131.50,112.5 v-1.2 M156.60,112.5 v-1.2 " stroke="#1a1a1a" stroke-width="0.6"/>
<rect x="104.8" y="38.5" width="29.60000000000001" height="17.700000000000003" fill="#fff" stroke="#1a1a1a" stroke-width="0.7"/>
<path d="M107.0,43.46 h8.6" stroke="#3399ff" stroke-width="2.6"/>
<path d="M107.0,51.24 h8.6" stroke="#ff9900" stroke-width="2.6"/>
<text x="115.41" y="46.16" font-size="7.6" textLength="17.22" lengthAdjust="spacingAndGlyphs" fill="#1a1a1a" stroke="#1a1a1a" stroke-width="0.14">Ring</text>
<text x="117.09" y="53.94" font-size="7.6" textLength="12.46" lengthAdjust="spacingAndGlyphs" fill="#1a1a1a" stroke="#1a1a1a" stroke-width="0.14">Pin</text>
<text x="95.49" y="34.60" font-size="9.3" textLength="69.24" lengthAdjust="spacingAndGlyphs" fill="#000" stroke="#000" stroke-width="0.14">Trajectory of pin</text>
<text x="114.50" y="128.00" font-size="9.6" textLength="40.48" lengthAdjust="spacingAndGlyphs" fill="#000" stroke="#000" stroke-width="0.14">x axis (m)</text>
<text transform="translate(87.50,94.92) rotate(-90)" x="0" y="0" font-size="8.6" textLength="39.58" lengthAdjust="spacingAndGlyphs" fill="#000" stroke="#000" stroke-width="0.14">y axis (m)</text>
<path d="M301.3,39.55 L326.8,57.8 L326.8,94.3 L301.3,112 L275.8,94.3 L275.8,57.8 Z" fill="none" stroke="#3399ff" stroke-width="2.1" stroke-linejoin="round"/>
<path d="M302.6,73 L300.9,77 L301.8,82 L301.2,88 L302.3,94 L301.3,98 L301.4,102" fill="none" stroke="#ff7d0a" stroke-width="2.8" stroke-linejoin="round" stroke-linecap="round"/>
<path d="M274.5,38.1 V112.7 H329.5" fill="none" stroke="#1a1a1a" stroke-width="0.8"/>
<text x="262.67" y="46.30" font-size="7.0" textLength="9.73" lengthAdjust="spacingAndGlyphs" fill="#1a1a1a" stroke="#1a1a1a" stroke-width="0.14">0.2</text>
<text x="262.67" y="62.00" font-size="7.0" textLength="9.73" lengthAdjust="spacingAndGlyphs" fill="#1a1a1a" stroke="#1a1a1a" stroke-width="0.14">0.1</text>
<text x="265.55" y="77.70" font-size="7.0" textLength="3.89" lengthAdjust="spacingAndGlyphs" fill="#1a1a1a" stroke="#1a1a1a" stroke-width="0.14">0</text>
<text x="261.48" y="93.40" font-size="7.0" textLength="12.06" lengthAdjust="spacingAndGlyphs" fill="#1a1a1a" stroke="#1a1a1a" stroke-width="0.14">-0.1</text>
<text x="261.49" y="109.10" font-size="7.0" textLength="12.06" lengthAdjust="spacingAndGlyphs" fill="#1a1a1a" stroke="#1a1a1a" stroke-width="0.14">-0.2</text>
<text x="272.39" y="119.90" font-size="7.0" textLength="12.06" lengthAdjust="spacingAndGlyphs" fill="#1a1a1a" stroke="#1a1a1a" stroke-width="0.14">-0.2</text>
<text x="299.65" y="119.90" font-size="7.0" textLength="3.89" lengthAdjust="spacingAndGlyphs" fill="#1a1a1a" stroke="#1a1a1a" stroke-width="0.14">0</text>
<text x="322.27" y="119.90" font-size="7.0" textLength="9.73" lengthAdjust="spacingAndGlyphs" fill="#1a1a1a" stroke="#1a1a1a" stroke-width="0.14">0.2</text>
<path d="M274.5,43.80 h1.2 M274.5,59.50 h1.2 M274.5,75.20 h1.2 M274.5,90.90 h1.2 M274.5,106.60 h1.2 M278.40,112.7 v-1.2 M301.60,112.7 v-1.2 M327.10,112.7 v-1.2 " stroke="#1a1a1a" stroke-width="0.6"/>
<rect x="274.9" y="38.7" width="28.400000000000034" height="17.699999999999996" fill="#fff" stroke="#1a1a1a" stroke-width="0.7"/>
<path d="M277.09999999999997,43.66 h8.6" stroke="#3399ff" stroke-width="2.6"/>
<path d="M277.09999999999997,51.44 h8.6" stroke="#ff9900" stroke-width="2.6"/>
<text x="285.51" y="46.36" font-size="7.6" textLength="17.22" lengthAdjust="spacingAndGlyphs" fill="#1a1a1a" stroke="#1a1a1a" stroke-width="0.14">Ring</text>
<text x="287.19" y="54.14" font-size="7.6" textLength="12.46" lengthAdjust="spacingAndGlyphs" fill="#1a1a1a" stroke="#1a1a1a" stroke-width="0.14">Pin</text>
<text x="260.49" y="34.20" font-size="9.3" textLength="69.44" lengthAdjust="spacingAndGlyphs" fill="#000" stroke="#000" stroke-width="0.14">Trajectory of pin</text>
<text x="280.50" y="129.00" font-size="9.6" textLength="4.59" lengthAdjust="spacingAndGlyphs" fill="#000" stroke="#000" stroke-width="0.14">x</text>
<text x="291.11" y="129.00" font-size="9.6" textLength="33.07" lengthAdjust="spacingAndGlyphs" fill="#000" stroke="#000" stroke-width="0.14">axis (m)</text>
<text transform="translate(257.30,94.82) rotate(-90)" x="0" y="0" font-size="8.6" textLength="39.48" lengthAdjust="spacingAndGlyphs" fill="#000" stroke="#000" stroke-width="0.14">y axis (m)</text>
<path d="M132.0,153.85 L157.8,172.1 L157.8,208.6 L132.0,226.6 L106.2,208.6 L106.2,172.1 Z" fill="none" stroke="#3399ff" stroke-width="2.1" stroke-linejoin="round"/>
<path d="M131,186.5 L133.5,189 L130.5,191.5 L133,194 L130.5,196.5 L134,199 L131.5,201 L130,203 L133,204.5 L134.5,207 L131.5,209.5 L130,211.5 L133,213 L134.5,215 L131,217.5 L133.5,217" fill="none" stroke="#ff7d0a" stroke-width="1.9" stroke-linejoin="round" stroke-linecap="round"/><ellipse cx="132.2" cy="215.3" rx="2.6" ry="2.4" fill="#ff7d0a"/><ellipse cx="131.8" cy="189.5" rx="1.6" ry="2.2" fill="#ff7d0a"/>
<path d="M104.6,153 V227.7 H159.8" fill="none" stroke="#1a1a1a" stroke-width="0.8"/>
<text x="92.77" y="161.80" font-size="7.0" textLength="9.73" lengthAdjust="spacingAndGlyphs" fill="#1a1a1a" stroke="#1a1a1a" stroke-width="0.14">0.2</text>
<text x="92.77" y="177.40" font-size="7.0" textLength="9.73" lengthAdjust="spacingAndGlyphs" fill="#1a1a1a" stroke="#1a1a1a" stroke-width="0.14">0.1</text>
<text x="95.65" y="193.00" font-size="7.0" textLength="3.89" lengthAdjust="spacingAndGlyphs" fill="#1a1a1a" stroke="#1a1a1a" stroke-width="0.14">0</text>
<text x="91.58" y="208.60" font-size="7.0" textLength="12.06" lengthAdjust="spacingAndGlyphs" fill="#1a1a1a" stroke="#1a1a1a" stroke-width="0.14">-0.1</text>
<text x="91.59" y="224.20" font-size="7.0" textLength="12.06" lengthAdjust="spacingAndGlyphs" fill="#1a1a1a" stroke="#1a1a1a" stroke-width="0.14">-0.2</text>
<text x="102.69" y="234.90" font-size="7.0" textLength="12.06" lengthAdjust="spacingAndGlyphs" fill="#1a1a1a" stroke="#1a1a1a" stroke-width="0.14">-0.2</text>
<text x="130.25" y="234.90" font-size="7.0" textLength="3.89" lengthAdjust="spacingAndGlyphs" fill="#1a1a1a" stroke="#1a1a1a" stroke-width="0.14">0</text>
<text x="152.57" y="234.90" font-size="7.0" textLength="9.73" lengthAdjust="spacingAndGlyphs" fill="#1a1a1a" stroke="#1a1a1a" stroke-width="0.14">0.2</text>
<path d="M104.6,159.30 h1.2 M104.6,174.90 h1.2 M104.6,190.50 h1.2 M104.6,206.10 h1.2 M104.6,221.70 h1.2 M108.70,227.7 v-1.2 M132.20,227.7 v-1.2 M157.40,227.7 v-1.2 " stroke="#1a1a1a" stroke-width="0.6"/>
<rect x="105.3" y="153.3" width="28.89999999999999" height="18.0" fill="#fff" stroke="#1a1a1a" stroke-width="0.7"/>
<path d="M107.5,158.34 h8.6" stroke="#3399ff" stroke-width="2.6"/>
<path d="M107.5,166.26 h8.6" stroke="#ff9900" stroke-width="2.6"/>
<text x="115.91" y="161.04" font-size="7.6" textLength="17.22" lengthAdjust="spacingAndGlyphs" fill="#1a1a1a" stroke="#1a1a1a" stroke-width="0.14">Ring</text>
<text x="117.59" y="168.96" font-size="7.6" textLength="12.46" lengthAdjust="spacingAndGlyphs" fill="#1a1a1a" stroke="#1a1a1a" stroke-width="0.14">Pin</text>
<text x="93.19" y="150.40" font-size="9.3" textLength="68.12" lengthAdjust="spacingAndGlyphs" fill="#000" stroke="#000" stroke-width="0.14">Trajectory of pin</text>
<text x="115.90" y="242.80" font-size="9.6" textLength="4.49" lengthAdjust="spacingAndGlyphs" fill="#000" stroke="#000" stroke-width="0.14">x</text>
<text x="123.61" y="242.80" font-size="9.6" textLength="33.17" lengthAdjust="spacingAndGlyphs" fill="#000" stroke="#000" stroke-width="0.14">axis (m)</text>
<text transform="translate(89.00,210.72) rotate(-90)" x="0" y="0" font-size="8.6" textLength="40.40" lengthAdjust="spacingAndGlyphs" fill="#000" stroke="#000" stroke-width="0.14">y axis (m)</text>
<path d="M302.0,155.30 L327.6,173.5 L327.6,209.9 L302.0,227.6 L276.6,209.9 L276.6,173.5 Z" fill="none" stroke="#3399ff" stroke-width="2.1" stroke-linejoin="round"/>
<path d="M298.2,191 C296.8,188.5 300,187.6 302.5,188.4 C305.5,189.3 305.3,192.8 302,193.4 C300,193.8 298.6,193 299.5,191.2" fill="none" stroke="#ff7d0a" stroke-width="1.8" stroke-linejoin="round" stroke-linecap="round"/><path d="M301,193.5 C303.5,197 302.5,199 300.5,202 C299,205 302,207 303,210.5 M300,194 C299.5,198 303.5,201 302.3,204 C301,207 300,209 301,212" fill="none" stroke="#ff7d0a" stroke-width="1.4" stroke-linejoin="round" stroke-linecap="round"/><path d="M299,213 C300,210.8 305,210.8 306.6,213.8 C308,216.5 306,219.2 302.5,219.2 C299.4,219.2 298.4,216 299,213 Z" fill="#ff7d0a"/>
<path d="M274.3,153.5 V228.6 H329.5" fill="none" stroke="#1a1a1a" stroke-width="0.8"/>
<text x="262.47" y="162.60" font-size="7.0" textLength="9.73" lengthAdjust="spacingAndGlyphs" fill="#1a1a1a" stroke="#1a1a1a" stroke-width="0.14">0.2</text>
<text x="262.47" y="178.20" font-size="7.0" textLength="9.73" lengthAdjust="spacingAndGlyphs" fill="#1a1a1a" stroke="#1a1a1a" stroke-width="0.14">0.1</text>
<text x="265.35" y="193.80" font-size="7.0" textLength="3.89" lengthAdjust="spacingAndGlyphs" fill="#1a1a1a" stroke="#1a1a1a" stroke-width="0.14">0</text>
<text x="261.28" y="209.40" font-size="7.0" textLength="12.06" lengthAdjust="spacingAndGlyphs" fill="#1a1a1a" stroke="#1a1a1a" stroke-width="0.14">-0.1</text>
<text x="261.29" y="225.00" font-size="7.0" textLength="12.06" lengthAdjust="spacingAndGlyphs" fill="#1a1a1a" stroke="#1a1a1a" stroke-width="0.14">-0.2</text>
<text x="272.99" y="235.80" font-size="7.0" textLength="12.06" lengthAdjust="spacingAndGlyphs" fill="#1a1a1a" stroke="#1a1a1a" stroke-width="0.14">-0.2</text>
<text x="300.35" y="235.80" font-size="7.0" textLength="3.89" lengthAdjust="spacingAndGlyphs" fill="#1a1a1a" stroke="#1a1a1a" stroke-width="0.14">0</text>
<text x="322.77" y="235.80" font-size="7.0" textLength="9.73" lengthAdjust="spacingAndGlyphs" fill="#1a1a1a" stroke="#1a1a1a" stroke-width="0.14">0.2</text>
<path d="M274.3,160.10 h1.2 M274.3,175.70 h1.2 M274.3,191.30 h1.2 M274.3,206.90 h1.2 M274.3,222.50 h1.2 M279.00,228.6 v-1.2 M302.30,228.6 v-1.2 M327.60,228.6 v-1.2 " stroke="#1a1a1a" stroke-width="0.6"/>
<rect x="275.6" y="153.8" width="28.599999999999966" height="18.19999999999999" fill="#fff" stroke="#1a1a1a" stroke-width="0.7"/>
<path d="M277.8,158.90 h8.6" stroke="#3399ff" stroke-width="2.6"/>
<path d="M277.8,166.90 h8.6" stroke="#ff9900" stroke-width="2.6"/>
<text x="286.21" y="161.60" font-size="7.6" textLength="17.22" lengthAdjust="spacingAndGlyphs" fill="#1a1a1a" stroke="#1a1a1a" stroke-width="0.14">Ring</text>
<text x="287.89" y="169.60" font-size="7.6" textLength="12.46" lengthAdjust="spacingAndGlyphs" fill="#1a1a1a" stroke="#1a1a1a" stroke-width="0.14">Pin</text>
<text x="259.49" y="151.20" font-size="9.3" textLength="69.54" lengthAdjust="spacingAndGlyphs" fill="#000" stroke="#000" stroke-width="0.14">Trajectory of pin</text>
<text x="285.20" y="243.70" font-size="9.6" textLength="40.79" lengthAdjust="spacingAndGlyphs" fill="#000" stroke="#000" stroke-width="0.14">x axis (m)</text>
<text transform="translate(258.00,212.22) rotate(-90)" x="0" y="0" font-size="8.6" textLength="40.80" lengthAdjust="spacingAndGlyphs" fill="#000" stroke="#000" stroke-width="0.14">y axis (m)</text>
<path d="M482.2,39.35 L507.5,57.6 L507.5,94.1 L482.2,111.3 L456.8,94.1 L456.8,57.6 Z" fill="none" stroke="#3399ff" stroke-width="2.1" stroke-linejoin="round"/>
<path d="M483.2,75 C480.3,75 480.4,79 481.5,80.5 L481.6,86 L482.5,90 L482,94 L482.5,98.6" fill="none" stroke="#ff7d0a" stroke-width="2.3" stroke-linejoin="round" stroke-linecap="round"/>
<path d="M454.7,39.5 V112.1 H510" fill="none" stroke="#1a1a1a" stroke-width="0.8"/>
<text x="442.87" y="47.70" font-size="7.0" textLength="9.73" lengthAdjust="spacingAndGlyphs" fill="#1a1a1a" stroke="#1a1a1a" stroke-width="0.14">0.2</text>
<text x="442.87" y="63.10" font-size="7.0" textLength="9.73" lengthAdjust="spacingAndGlyphs" fill="#1a1a1a" stroke="#1a1a1a" stroke-width="0.14">0.1</text>
<text x="445.75" y="78.50" font-size="7.0" textLength="3.89" lengthAdjust="spacingAndGlyphs" fill="#1a1a1a" stroke="#1a1a1a" stroke-width="0.14">0</text>
<text x="441.68" y="93.90" font-size="7.0" textLength="12.06" lengthAdjust="spacingAndGlyphs" fill="#1a1a1a" stroke="#1a1a1a" stroke-width="0.14">-0.1</text>
<text x="441.69" y="109.30" font-size="7.0" textLength="12.06" lengthAdjust="spacingAndGlyphs" fill="#1a1a1a" stroke="#1a1a1a" stroke-width="0.14">-0.2</text>
<text x="452.39" y="119.30" font-size="7.0" textLength="12.06" lengthAdjust="spacingAndGlyphs" fill="#1a1a1a" stroke="#1a1a1a" stroke-width="0.14">-0.2</text>
<text x="480.25" y="119.30" font-size="7.0" textLength="3.89" lengthAdjust="spacingAndGlyphs" fill="#1a1a1a" stroke="#1a1a1a" stroke-width="0.14">0</text>
<text x="502.77" y="119.30" font-size="7.0" textLength="9.73" lengthAdjust="spacingAndGlyphs" fill="#1a1a1a" stroke="#1a1a1a" stroke-width="0.14">0.2</text>
<path d="M454.7,45.20 h1.2 M454.7,60.60 h1.2 M454.7,76.00 h1.2 M454.7,91.40 h1.2 M454.7,106.80 h1.2 M458.40,112.1 v-1.2 M482.20,112.1 v-1.2 M507.60,112.1 v-1.2 " stroke="#1a1a1a" stroke-width="0.6"/>
<rect x="457.6" y="40.1" width="29.099999999999966" height="17.699999999999996" fill="#fff" stroke="#1a1a1a" stroke-width="0.7"/>
<path d="M459.8,45.06 h8.6" stroke="#3399ff" stroke-width="2.6"/>
<path d="M459.8,52.84 h8.6" stroke="#ff9900" stroke-width="2.6"/>
<text x="468.21" y="47.76" font-size="7.6" textLength="17.22" lengthAdjust="spacingAndGlyphs" fill="#1a1a1a" stroke="#1a1a1a" stroke-width="0.14">Ring</text>
<text x="469.89" y="55.54" font-size="7.6" textLength="12.46" lengthAdjust="spacingAndGlyphs" fill="#1a1a1a" stroke="#1a1a1a" stroke-width="0.14">Pin</text>
<text x="447.89" y="34.80" font-size="9.3" textLength="69.34" lengthAdjust="spacingAndGlyphs" fill="#000" stroke="#000" stroke-width="0.14">Trajectory of pin</text>
<text x="464.90" y="129.00" font-size="9.6" textLength="40.69" lengthAdjust="spacingAndGlyphs" fill="#000" stroke="#000" stroke-width="0.14">x axis (m)</text>
<text transform="translate(437.70,95.22) rotate(-90)" x="0" y="0" font-size="8.6" textLength="38.87" lengthAdjust="spacingAndGlyphs" fill="#000" stroke="#000" stroke-width="0.14">y axis (m)</text>
<path d="M652.3,40.80 L677.5,58.8 L677.5,94.8 L652.3,112.8 L626.6,94.8 L626.6,58.8 Z" fill="none" stroke="#3399ff" stroke-width="2.1" stroke-linejoin="round"/>
<path d="M653.3,75 L652.2,80 L651.8,85 L652.3,90 L651.6,95 L652.2,100 L651.6,104.5 L651.6,108.3" fill="none" stroke="#ff7d0a" stroke-width="2.6" stroke-linejoin="round" stroke-linecap="round"/><path d="M652,84 L651.5,92 L652.4,98" fill="none" stroke="#ff7d0a" stroke-width="4.8" stroke-linejoin="round" stroke-linecap="round"/>
<path d="M624.1,40.5 V113.1 H679.5" fill="none" stroke="#1a1a1a" stroke-width="0.8"/>
<text x="612.27" y="48.30" font-size="7.0" textLength="9.73" lengthAdjust="spacingAndGlyphs" fill="#1a1a1a" stroke="#1a1a1a" stroke-width="0.14">0.2</text>
<text x="612.27" y="63.80" font-size="7.0" textLength="9.73" lengthAdjust="spacingAndGlyphs" fill="#1a1a1a" stroke="#1a1a1a" stroke-width="0.14">0.1</text>
<text x="615.15" y="79.30" font-size="7.0" textLength="3.89" lengthAdjust="spacingAndGlyphs" fill="#1a1a1a" stroke="#1a1a1a" stroke-width="0.14">0</text>
<text x="611.08" y="94.80" font-size="7.0" textLength="12.06" lengthAdjust="spacingAndGlyphs" fill="#1a1a1a" stroke="#1a1a1a" stroke-width="0.14">-0.1</text>
<text x="611.09" y="110.30" font-size="7.0" textLength="12.06" lengthAdjust="spacingAndGlyphs" fill="#1a1a1a" stroke="#1a1a1a" stroke-width="0.14">-0.2</text>
<text x="621.99" y="120.30" font-size="7.0" textLength="12.06" lengthAdjust="spacingAndGlyphs" fill="#1a1a1a" stroke="#1a1a1a" stroke-width="0.14">-0.2</text>
<text x="650.25" y="120.30" font-size="7.0" textLength="3.89" lengthAdjust="spacingAndGlyphs" fill="#1a1a1a" stroke="#1a1a1a" stroke-width="0.14">0</text>
<text x="672.47" y="120.30" font-size="7.0" textLength="9.73" lengthAdjust="spacingAndGlyphs" fill="#1a1a1a" stroke="#1a1a1a" stroke-width="0.14">0.2</text>
<path d="M624.1,45.80 h1.2 M624.1,61.30 h1.2 M624.1,76.80 h1.2 M624.1,92.30 h1.2 M624.1,107.80 h1.2 M628.00,113.1 v-1.2 M652.20,113.1 v-1.2 M677.30,113.1 v-1.2 " stroke="#1a1a1a" stroke-width="0.6"/>
<rect x="627.1" y="41.1" width="29.5" height="17.9" fill="#fff" stroke="#1a1a1a" stroke-width="0.7"/>
<path d="M629.3000000000001,46.11 h8.6" stroke="#3399ff" stroke-width="2.6"/>
<path d="M629.3000000000001,53.99 h8.6" stroke="#ff9900" stroke-width="2.6"/>
<text x="637.71" y="48.81" font-size="7.6" textLength="17.22" lengthAdjust="spacingAndGlyphs" fill="#1a1a1a" stroke="#1a1a1a" stroke-width="0.14">Ring</text>
<text x="639.39" y="56.69" font-size="7.6" textLength="12.46" lengthAdjust="spacingAndGlyphs" fill="#1a1a1a" stroke="#1a1a1a" stroke-width="0.14">Pin</text>
<text x="614.29" y="36.20" font-size="9.3" textLength="69.54" lengthAdjust="spacingAndGlyphs" fill="#000" stroke="#000" stroke-width="0.14">Trajectory of pin</text>
<text x="635.80" y="128.80" font-size="9.6" textLength="41.09" lengthAdjust="spacingAndGlyphs" fill="#000" stroke="#000" stroke-width="0.14">x axis (m)</text>
<text transform="translate(609.00,96.62) rotate(-90)" x="0" y="0" font-size="8.6" textLength="39.58" lengthAdjust="spacingAndGlyphs" fill="#000" stroke="#000" stroke-width="0.14">y axis (m)</text>
<path d="M483.2,158.70 L508.3,176.6 L508.3,212.4 L483.2,229.6 L457.2,212.4 L457.2,176.6 Z" fill="none" stroke="#3399ff" stroke-width="2.1" stroke-linejoin="round"/>
<path d="M486.7,190.5 C484.5,192 482.5,193.5 481.5,195 C480,197 478.3,199 479,200.3 C480,201.3 482.5,200.5 483.8,198.5 C485,196.5 484.5,195 483.5,195.5 M481.5,201 L483,203" fill="none" stroke="#ff7d0a" stroke-width="1.4" stroke-linejoin="round" stroke-linecap="round"/><ellipse cx="482.6" cy="205.6" rx="2.4" ry="4" fill="#ff7d0a"/><path d="M481.5,209 C478.5,212 478,217 479.5,221 C480.5,224 482.3,227 483.1,228.6 C484,226 486.2,221 485.9,216 C485.7,212.5 484.5,210 483,209 Z" fill="none" stroke="#ff7d0a" stroke-width="1.3" stroke-linejoin="round" stroke-linecap="round"/><path d="M481.2,210 L483.8,213 L480.6,216 L484.6,218.5 L481,221.5 L483.6,224.5" fill="none" stroke="#ff7d0a" stroke-width="1.3" stroke-linejoin="round" stroke-linecap="round"/>
<path d="M454.6,157.8 V230.2 H510" fill="none" stroke="#1a1a1a" stroke-width="0.8"/>
<text x="442.77" y="166.50" font-size="7.0" textLength="9.73" lengthAdjust="spacingAndGlyphs" fill="#1a1a1a" stroke="#1a1a1a" stroke-width="0.14">0.2</text>
<text x="442.77" y="181.90" font-size="7.0" textLength="9.73" lengthAdjust="spacingAndGlyphs" fill="#1a1a1a" stroke="#1a1a1a" stroke-width="0.14">0.1</text>
<text x="445.65" y="197.30" font-size="7.0" textLength="3.89" lengthAdjust="spacingAndGlyphs" fill="#1a1a1a" stroke="#1a1a1a" stroke-width="0.14">0</text>
<text x="441.58" y="212.70" font-size="7.0" textLength="12.06" lengthAdjust="spacingAndGlyphs" fill="#1a1a1a" stroke="#1a1a1a" stroke-width="0.14">-0.1</text>
<text x="441.59" y="228.10" font-size="7.0" textLength="12.06" lengthAdjust="spacingAndGlyphs" fill="#1a1a1a" stroke="#1a1a1a" stroke-width="0.14">-0.2</text>
<text x="452.49" y="237.40" font-size="7.0" textLength="12.06" lengthAdjust="spacingAndGlyphs" fill="#1a1a1a" stroke="#1a1a1a" stroke-width="0.14">-0.2</text>
<text x="480.95" y="237.40" font-size="7.0" textLength="3.89" lengthAdjust="spacingAndGlyphs" fill="#1a1a1a" stroke="#1a1a1a" stroke-width="0.14">0</text>
<text x="502.97" y="237.40" font-size="7.0" textLength="9.73" lengthAdjust="spacingAndGlyphs" fill="#1a1a1a" stroke="#1a1a1a" stroke-width="0.14">0.2</text>
<path d="M454.6,164.00 h1.2 M454.6,179.40 h1.2 M454.6,194.80 h1.2 M454.6,210.20 h1.2 M454.6,225.60 h1.2 M458.50,230.2 v-1.2 M482.90,230.2 v-1.2 M507.80,230.2 v-1.2 " stroke="#1a1a1a" stroke-width="0.6"/>
<rect x="457.2" y="158.3" width="29.5" height="18.0" fill="#fff" stroke="#1a1a1a" stroke-width="0.7"/>
<path d="M459.4,163.34 h8.6" stroke="#3399ff" stroke-width="2.6"/>
<path d="M459.4,171.26 h8.6" stroke="#ff9900" stroke-width="2.6"/>
<text x="467.81" y="166.04" font-size="7.6" textLength="17.22" lengthAdjust="spacingAndGlyphs" fill="#1a1a1a" stroke="#1a1a1a" stroke-width="0.14">Ring</text>
<text x="469.49" y="173.96" font-size="7.6" textLength="12.46" lengthAdjust="spacingAndGlyphs" fill="#1a1a1a" stroke="#1a1a1a" stroke-width="0.14">Pin</text>
<text x="443.19" y="153.90" font-size="9.3" textLength="68.53" lengthAdjust="spacingAndGlyphs" fill="#000" stroke="#000" stroke-width="0.14">Trajectory of pin</text>
<text x="463.89" y="245.80" font-size="9.6" textLength="42.72" lengthAdjust="spacingAndGlyphs" fill="#000" stroke="#000" stroke-width="0.14">x axis (m)</text>
<text transform="translate(438.90,213.42) rotate(-90)" x="0" y="0" font-size="8.6" textLength="38.47" lengthAdjust="spacingAndGlyphs" fill="#000" stroke="#000" stroke-width="0.14">y axis (m)</text>
<path d="M652.8,159.40 L678.7,177.4 L678.7,213.4 L652.8,230.6 L627.6,213.4 L627.6,177.4 Z" fill="none" stroke="#3399ff" stroke-width="2.1" stroke-linejoin="round"/>
<path d="M647,194.5 L650,197.5 L652.5,200.5 L655,203" fill="none" stroke="#ff7d0a" stroke-width="2.2" stroke-linejoin="round" stroke-linecap="round"/><path d="M652,196 C654,192 658,194 657.5,197.5 C657,201 654.5,203 653,204.5" fill="none" stroke="#ff7d0a" stroke-width="1.9" stroke-linejoin="round" stroke-linecap="round"/><path d="M653,203 L651.5,207 L653.5,210" fill="none" stroke="#ff7d0a" stroke-width="2.6" stroke-linejoin="round" stroke-linecap="round"/><path d="M650,209.5 C653,208.5 656.5,210 656,213.5 C655.7,217 655,220.5 652,221.5 C649,222 647.8,219 648.3,215.5 C648.6,212.5 648.5,210.5 650,209.5 Z" fill="#ff7d0a"/><path d="M649.5,220.5 C648,222.5 646,224 646.2,225.5 C646.5,226.5 649,225.5 650.5,224" fill="none" stroke="#ff7d0a" stroke-width="1.6" stroke-linejoin="round" stroke-linecap="round"/>
<path d="M625.1,158.5 V231.1 H680.5" fill="none" stroke="#1a1a1a" stroke-width="0.8"/>
<text x="613.27" y="166.80" font-size="7.0" textLength="9.73" lengthAdjust="spacingAndGlyphs" fill="#1a1a1a" stroke="#1a1a1a" stroke-width="0.14">0.2</text>
<text x="613.27" y="182.40" font-size="7.0" textLength="9.73" lengthAdjust="spacingAndGlyphs" fill="#1a1a1a" stroke="#1a1a1a" stroke-width="0.14">0.1</text>
<text x="616.15" y="198.00" font-size="7.0" textLength="3.89" lengthAdjust="spacingAndGlyphs" fill="#1a1a1a" stroke="#1a1a1a" stroke-width="0.14">0</text>
<text x="612.08" y="213.60" font-size="7.0" textLength="12.06" lengthAdjust="spacingAndGlyphs" fill="#1a1a1a" stroke="#1a1a1a" stroke-width="0.14">-0.1</text>
<text x="612.09" y="229.20" font-size="7.0" textLength="12.06" lengthAdjust="spacingAndGlyphs" fill="#1a1a1a" stroke="#1a1a1a" stroke-width="0.14">-0.2</text>
<text x="622.99" y="238.30" font-size="7.0" textLength="12.06" lengthAdjust="spacingAndGlyphs" fill="#1a1a1a" stroke="#1a1a1a" stroke-width="0.14">-0.2</text>
<text x="650.85" y="238.30" font-size="7.0" textLength="3.89" lengthAdjust="spacingAndGlyphs" fill="#1a1a1a" stroke="#1a1a1a" stroke-width="0.14">0</text>
<text x="673.47" y="238.30" font-size="7.0" textLength="9.73" lengthAdjust="spacingAndGlyphs" fill="#1a1a1a" stroke="#1a1a1a" stroke-width="0.14">0.2</text>
<path d="M625.1,164.30 h1.2 M625.1,179.90 h1.2 M625.1,195.50 h1.2 M625.1,211.10 h1.2 M625.1,226.70 h1.2 M629.00,231.1 v-1.2 M652.80,231.1 v-1.2 M678.30,231.1 v-1.2 " stroke="#1a1a1a" stroke-width="0.6"/>
<rect x="628" y="158.5" width="28.700000000000045" height="17.80000000000001" fill="#fff" stroke="#1a1a1a" stroke-width="0.7"/>
<path d="M630.2,163.48 h8.6" stroke="#3399ff" stroke-width="2.6"/>
<path d="M630.2,171.32 h8.6" stroke="#ff9900" stroke-width="2.6"/>
<text x="638.61" y="166.18" font-size="7.6" textLength="17.22" lengthAdjust="spacingAndGlyphs" fill="#1a1a1a" stroke="#1a1a1a" stroke-width="0.14">Ring</text>
<text x="640.29" y="174.02" font-size="7.6" textLength="12.46" lengthAdjust="spacingAndGlyphs" fill="#1a1a1a" stroke="#1a1a1a" stroke-width="0.14">Pin</text>
<text x="610.29" y="153.80" font-size="9.3" textLength="69.64" lengthAdjust="spacingAndGlyphs" fill="#000" stroke="#000" stroke-width="0.14">Trajectory of pin</text>
<text x="636.00" y="247.40" font-size="9.6" textLength="40.08" lengthAdjust="spacingAndGlyphs" fill="#000" stroke="#000" stroke-width="0.14">x axis (m)</text>
<text x="676.30" y="247.40" font-size="9.6" textLength="5.90" lengthAdjust="spacingAndGlyphs" fill="#000" stroke="#000" stroke-width="0.14">S</text>
<text transform="translate(609.20,215.22) rotate(-90)" x="0" y="0" font-size="8.6" textLength="40.30" lengthAdjust="spacingAndGlyphs" fill="#000" stroke="#000" stroke-width="0.14">y axis (m)</text>
<line x1="345.5" y1="2.8" x2="345.5" y2="254" stroke="#111" stroke-width="1.3" stroke-dasharray="7.6 7.17" stroke-dashoffset="3.67"/>
<line x1="27" y1="132.1" x2="321" y2="132.1" stroke="#111" stroke-width="1.3" stroke-dasharray="7.4 7.28" stroke-dashoffset="3.6"/>
<line x1="378.2" y1="134.7" x2="671.8" y2="134.7" stroke="#111" stroke-width="1.3" stroke-dasharray="7.5 7.2" stroke-dashoffset="4.2"/>
<line x1="169.4" y1="27.9" x2="169.4" y2="242.2" stroke="#111" stroke-width="1.3" stroke-dasharray="7.0 7.22" stroke-dashoffset="3.2"/>
<line x1="520.4" y1="30.2" x2="520.4" y2="244.7" stroke="#111" stroke-width="1.3" stroke-dasharray="7.0 7.21" stroke-dashoffset="2.4"/>
<circle cx="384.7" cy="67.2" r="6.8" fill="none" stroke="#333" stroke-width="0.9"/>
<circle cx="557.6" cy="49.8" r="7.0" fill="none" stroke="#333" stroke-width="0.9"/>
<circle cx="391.1" cy="164.5" r="7.0" fill="none" stroke="#333" stroke-width="0.9"/>
<circle cx="562.6" cy="172.8" r="7.2" fill="none" stroke="#333" stroke-width="0.9"/>
<path d="M385.7,68 V86 M385.7,93.2 V100.7" stroke="#777" stroke-width="0.9"/>
<rect x="159.8" y="119.9" width="20.4" height="24.4" fill="#555"/>
<text x="161.59" y="130.60" font-size="12" textLength="18.48" lengthAdjust="spacingAndGlyphs" fill="#fff" stroke="#fff" stroke-width="0">1 2</text>
<text x="160.88" y="143.40" font-size="12" textLength="19.12" lengthAdjust="spacingAndGlyphs" fill="#fff" stroke="#fff" stroke-width="0">3 4</text>
<rect x="510.4" y="122.7" width="20.7" height="24.1" fill="#555"/>
<text x="510.92" y="133.00" font-size="12" textLength="19.80" lengthAdjust="spacingAndGlyphs" fill="#fff" stroke="#fff" stroke-width="0">1 2</text>
<text x="510.65" y="146.20" font-size="12" textLength="20.17" lengthAdjust="spacingAndGlyphs" fill="#fff" stroke="#fff" stroke-width="0">3 4</text>
<rect x="61" y="6.9" width="66.9" height="12.8" fill="#555"/>
<text x="64.06" y="16.90" font-size="9.5" textLength="64.28" lengthAdjust="spacingAndGlyphs" fill="#fff" stroke="#fff" stroke-width="0">Follower No.</text>
<rect x="400" y="8" width="67.9" height="13.5" fill="#555"/>
<text x="404.06" y="17.60" font-size="9.5" textLength="64.49" lengthAdjust="spacingAndGlyphs" fill="#fff" stroke="#fff" stroke-width="0">Follower No.</text>
<text x="139.31" y="15.30" font-size="18" textLength="144.80" lengthAdjust="spacingAndGlyphs" fill="#000" stroke="#000" stroke-width="0.1">Reference group</text>
<text x="477.47" y="15.70" font-size="18" textLength="127.64" lengthAdjust="spacingAndGlyphs" fill="#000" stroke="#000" stroke-width="0.1">Transfer group</text>
</svg>
</body></html>
